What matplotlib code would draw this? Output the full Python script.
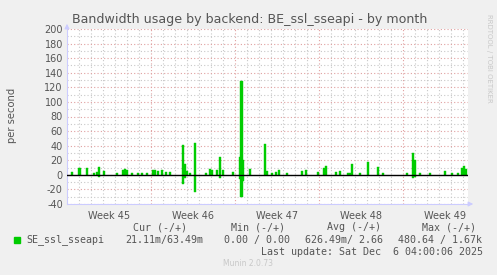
import matplotlib
matplotlib.use("Agg")
import matplotlib.pyplot as plt
import numpy as np

# spikes: day since start of week 45, outbound (+), inbound (-)
spike_days = [0.42, 1.04, 1.67, 2.25, 2.5, 2.67, 3.08, 4.17, 4.67, 4.83, 5.0, 5.42,
              5.92, 6.25, 6.67, 7.17, 7.33, 7.58, 7.92, 8.25, 8.58, 9.67, 9.83, 10.0,
              10.25, 10.67, 11.58, 11.92, 12.08, 12.5, 12.75, 13.0, 13.83, 14.42, 14.54,
              14.67, 15.25, 16.5, 16.67, 17.08, 17.42, 17.67, 18.33, 19.58, 19.92, 20.92,
              21.42, 21.58, 22.42, 22.75, 23.42, 23.58, 23.75, 24.42, 25.08, 25.92, 26.33,
              28.33, 28.83, 28.96, 29.42, 30.25, 31.5, 32.08, 32.58, 32.92, 33.08, 33.25]
spike_out = [4, 9, 9, 3, 4, 11, 5, 3, 6, 8, 7, 3,
             2, 2, 2, 6, 7, 5, 6, 4, 4, 41, 15, 5,
             3, 43, 3, 8, 6, 7, 24, 7, 4, 24, 129,
             20, 8, 42, 5, 3, 4, 6, 3, 5, 6, 4,
             10, 12, 4, 5, 3, 3, 15, 2, 17, 11, 2,
             2, 30, 20, 2, 2, 5, 3, 2, 10, 12, 8]
spike_in = [0, 0, 0, 0, 0, -3, 0, 0, 0, 0, 0, 0,
            0, 0, 0, 0, 0, 0, 0, 0, 0, -12, -5, 0,
            0, -24, 0, 0, 0, 0, -5, 0, 0, -6, -30,
            -8, 0, 0, 0, 0, 0, 0, 0, 0, 0, 0,
            0, 0, 0, 0, 0, 0, 0, 0, 0, 0, 0,
            0, -5, -3, 0, 0, 0, 0, 0, 0, 0, 0]

week_pos = [3.5, 10.5, 17.5, 24.5, 31.5]
week_labels = ["Week 45", "Week 46", "Week 47", "Week 48", "Week 49"]
y_ticks = list(range(-40, 201, 20))

bg = "#f0f0f0"
txt = "#555555"
green = "#00cc00"
major_c = "#e0a0a0"
minor_c = "#c8c8c8"

fig = plt.figure(figsize=(4.97, 2.75), dpi=100, facecolor=bg)
ax = fig.add_axes([67 / 497, 71 / 275, 401 / 497, 175 / 275])
ax.set_facecolor("white")

ax.bar(spike_days, spike_out, width=0.17, color=green, edgecolor=green,
       linewidth=0.3, zorder=3)
ax.bar(spike_days, spike_in, width=0.17, color=green, edgecolor=green,
       linewidth=0.3, zorder=3)
ax.axhline(0, color="black", lw=1.0, zorder=4)

ax.set_xlim(0, 401 / 12)
ax.set_ylim(-40, 200)

# grid: gray minor, pink major
for d in range(1, 34):
    if d % 7:
        ax.axvline(d, color=minor_c, lw=0.8, ls=(0, (1, 2)), zorder=1)
for d in [7, 14, 21, 28]:
    ax.axvline(d, color=major_c, lw=0.8, ls=(0, (1, 2)), zorder=1)
for v in range(-30, 200, 20):
    ax.axhline(v, color=minor_c, lw=0.8, ls=(0, (1, 2)), zorder=1)
for v in y_ticks:
    ax.axhline(v, color=major_c, lw=0.8, ls=(0, (1, 2)), zorder=1)

for s in ["top", "right"]:
    ax.spines[s].set_visible(False)
for s in ["left", "bottom"]:
    ax.spines[s].set_color("#ccccff")
    ax.spines[s].set_linewidth(0.8)

ax.set_yticks(y_ticks)
ax.set_yticklabels([str(v) for v in y_ticks])
ax.set_xticks(week_pos)
ax.set_xticklabels(week_labels)
ax.tick_params(axis="both", length=0, labelsize=7, labelcolor=txt, pad=3)
ax.tick_params(axis="x", pad=5)

# arrows at the ends of the axes
ax.annotate("", xy=(67 / 497, 1 - 21 / 275), xytext=(67 / 497, 1 - 30 / 275),
            xycoords="figure fraction", textcoords="figure fraction",
            arrowprops=dict(arrowstyle="-|>", color="#ccccff", lw=0.8,
                            mutation_scale=7))
ax.annotate("", xy=(476 / 497, 71 / 275), xytext=(466 / 497, 71 / 275),
            xycoords="figure fraction", textcoords="figure fraction",
            arrowprops=dict(arrowstyle="-|>", color="#ccccff", lw=0.8,
                            mutation_scale=7))

fig.text(72 / 497, 1 - 19 / 275, "Bandwidth usage by backend: BE_ssl_sseapi - by month",
         fontsize=9.1, color=txt, va="center", ha="left")
fig.text(12 / 497, 1 - 115 / 275, "per second", rotation=90, fontsize=7.2,
         color=txt, va="center", ha="center")
fig.text(489 / 497, 1 - 58 / 275, "RRDTOOL / TOBI OETIKER", rotation=270,
         fontsize=5, color="#c8c8c8", va="center", ha="center")

mono = dict(family="DejaVu Sans Mono", fontsize=7.2, color=txt, va="center")
fig.text(160 / 497, 1 - 227 / 275, "Cur (-/+)", ha="center", **mono)
fig.text(258 / 497, 1 - 227 / 275, "Min (-/+)", ha="center", **mono)
fig.text(354 / 497, 1 - 227 / 275, "Avg (-/+)", ha="center", **mono)
fig.text(449 / 497, 1 - 227 / 275, "Max (-/+)", ha="center", **mono)
fig.patches.append(plt.Rectangle((14 / 497, 1 - 243 / 275), 6 / 497, 6 / 275,
                                 transform=fig.transFigure, color=green))
fig.text(26 / 497, 1 - 240 / 275, "SE_ssl_sseapi", ha="left", **mono)
fig.text(164 / 497, 1 - 240 / 275, "21.11m/63.49m", ha="center", **mono)
fig.text(257 / 497, 1 - 240 / 275, "0.00 / 0.00", ha="center", **mono)
fig.text(344 / 497, 1 - 240 / 275, "626.49m/ 2.66", ha="center", **mono)
fig.text(440 / 497, 1 - 240 / 275, "480.64 / 1.67k", ha="center", **mono)
fig.text(483 / 497, 1 - 252 / 275, "Last update: Sat Dec  6 04:00:06 2025",
         ha="right", **mono)
fig.text(248 / 497, 1 - 264 / 275, "Munin 2.0.73", fontsize=5.5, color="#c8c8c8",
         ha="center", va="center")

fig.savefig("out.png", dpi=100, facecolor=bg)
